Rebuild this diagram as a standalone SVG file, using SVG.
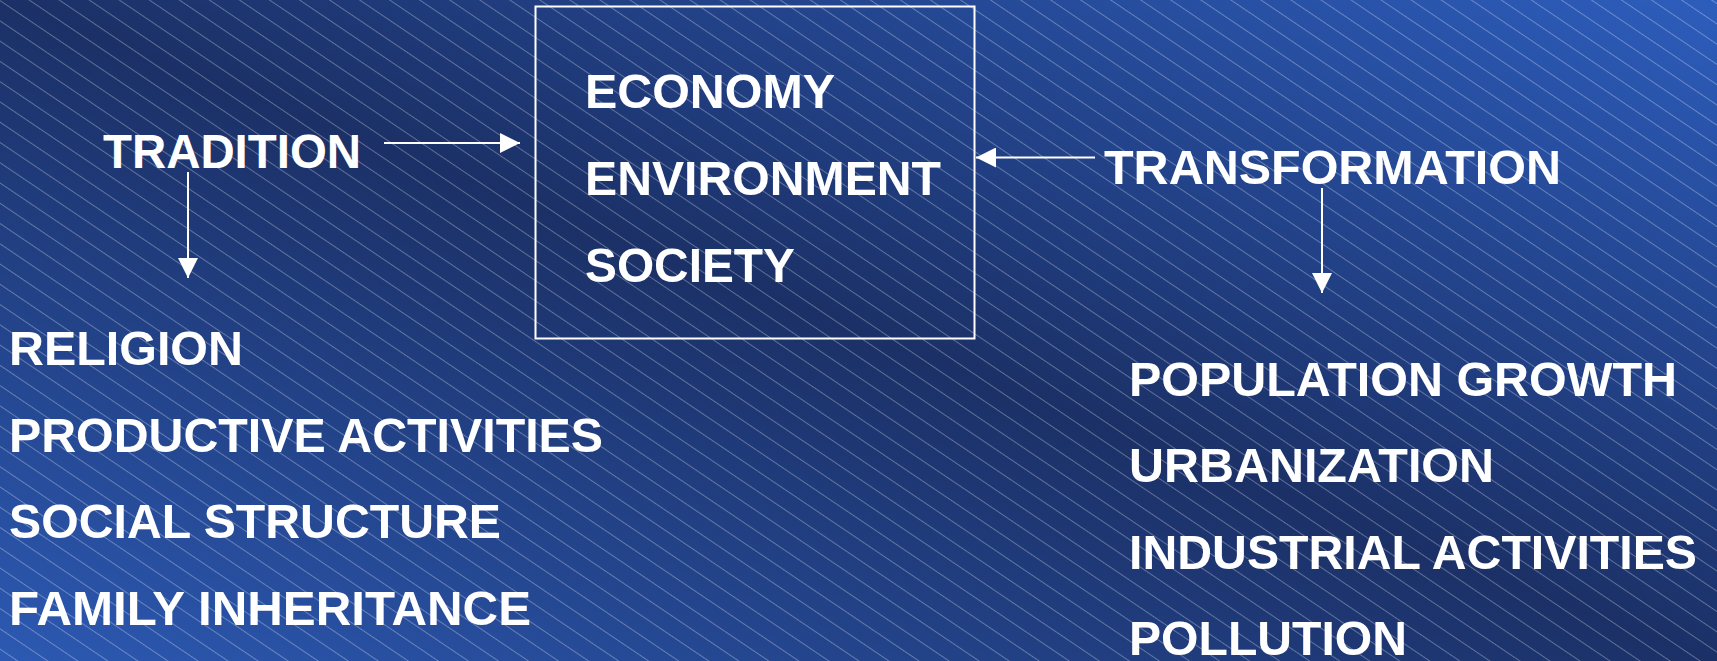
<svg xmlns="http://www.w3.org/2000/svg" width="1717" height="661" viewBox="0 0 1717 661">
  <style>
    .t { font-family: "Liberation Sans", Arial, sans-serif; font-weight: bold; font-size: 48.5px; fill: #ffffff; }
    .c { stroke: #ffffff; stroke-width: 2; fill: none; }
    .box { stroke: #ffffff; stroke-width: 2; fill: none; }
  </style>
  <defs>
    <linearGradient id="bg" x1="1" y1="0" x2="0" y2="1">
      <stop offset="0" stop-color="#2d5dbc"/>
      <stop offset="0.5" stop-color="#1b3066"/>
      <stop offset="1" stop-color="#2c59b2"/>
    </linearGradient>
    <pattern id="hatch" patternUnits="userSpaceOnUse" width="40" height="16.8" patternTransform="rotate(34)">
      <line x1="0" y1="0.5" x2="40" y2="0.5" stroke="#ffffff" stroke-opacity="0.3" stroke-width="1"/>
    </pattern>
    <marker id="ah" viewBox="0 0 20 20" refX="20" refY="10" markerWidth="20" markerHeight="20" markerUnits="userSpaceOnUse" orient="auto">
      <path d="M0,0 L20,10 L0,20 Z" fill="#ffffff"/>
    </marker>
  </defs>

  <rect x="0" y="0" width="1717" height="661" fill="url(#bg)"/>
  <rect x="0" y="0" width="1717" height="661" fill="url(#hatch)"/>

  <g id="core">
    <rect class="box" x="535.5" y="6.5" width="439" height="332"/>
    <text class="t" x="585" y="108" textLength="250" lengthAdjust="spacingAndGlyphs">ECONOMY</text>
    <text class="t" x="585" y="195" textLength="356" lengthAdjust="spacingAndGlyphs">ENVIRONMENT</text>
    <text class="t" x="585" y="282" textLength="210" lengthAdjust="spacingAndGlyphs">SOCIETY</text>
  </g>

  <g id="tradition">
    <text class="t" x="103" y="168" textLength="258" lengthAdjust="spacingAndGlyphs">TRADITION</text>
  </g>

  <g id="transformation">
    <text class="t" x="1104" y="184" textLength="457" lengthAdjust="spacingAndGlyphs">TRANSFORMATION</text>
  </g>

  <g id="tradition-list">
    <text class="t" x="9" y="365" textLength="234" lengthAdjust="spacingAndGlyphs">RELIGION</text>
    <text class="t" x="9" y="452" textLength="594" lengthAdjust="spacingAndGlyphs">PRODUCTIVE ACTIVITIES</text>
    <text class="t" x="9" y="538" textLength="492" lengthAdjust="spacingAndGlyphs">SOCIAL STRUCTURE</text>
    <text class="t" x="9" y="625" textLength="522" lengthAdjust="spacingAndGlyphs">FAMILY INHERITANCE</text>
  </g>

  <g id="transformation-list">
    <text class="t" x="1129" y="396" textLength="548" lengthAdjust="spacingAndGlyphs">POPULATION GROWTH</text>
    <text class="t" x="1129" y="482" textLength="365" lengthAdjust="spacingAndGlyphs">URBANIZATION</text>
    <text class="t" x="1129" y="569" textLength="568" lengthAdjust="spacingAndGlyphs">INDUSTRIAL ACTIVITIES</text>
    <text class="t" x="1129" y="655" textLength="278" lengthAdjust="spacingAndGlyphs">POLLUTION</text>
  </g>

  <g id="connectors">
    <line class="c" x1="384" y1="143" x2="520" y2="143" marker-end="url(#ah)"/>
    <line class="c" x1="1095" y1="157.5" x2="976" y2="157.5" marker-end="url(#ah)"/>
    <line class="c" x1="188" y1="172" x2="188" y2="278" marker-end="url(#ah)"/>
    <line class="c" x1="1322" y1="188" x2="1322" y2="293" marker-end="url(#ah)"/>
  </g>
</svg>
